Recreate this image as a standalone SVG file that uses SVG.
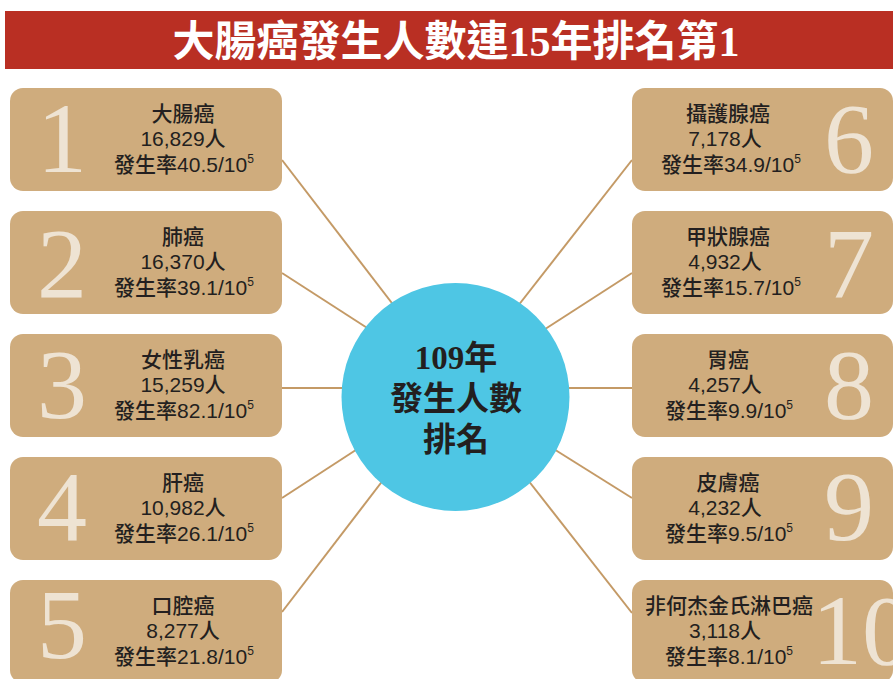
<svg xmlns="http://www.w3.org/2000/svg" width="893" height="679" viewBox="0 0 893 679">
<style>
.box{fill:#CFAC7D}
.num{font-family:"Liberation Serif","DejaVu Serif",serif;font-size:100px;fill:#EEE3D3}
.t{font-family:"Liberation Sans","Noto Sans CJK TC",sans-serif;font-size:21px;font-weight:500;fill:#231F20;text-anchor:middle}
.sup{font-size:12px}
.conn line{stroke:#C49A66;stroke-width:2}
.ct{font-family:"Liberation Serif","Noto Sans CJK TC",serif;font-weight:bold;font-size:33px;fill:#231F20;text-anchor:middle}
</style>
<rect width="893" height="679" fill="#FFFFFF"/>
<g id="title">
<rect x="5" y="11" width="888" height="58" fill="#B92F23"/>
<text x="456" y="56" font-family="'Liberation Serif','Noto Sans CJK TC',serif" font-weight="bold" font-size="42" fill="#FFFFFF" text-anchor="middle">大腸癌發生人數連15年排名第1</text>
</g>
<g id="connectors" class="conn">
<line x1="282" y1="160" x2="398" y2="311"/>
<line x1="282" y1="273" x2="375" y2="333"/>
<line x1="282" y1="388" x2="350" y2="388"/>
<line x1="282" y1="498" x2="362" y2="446"/>
<line x1="282" y1="612" x2="387" y2="475"/>
<line x1="632" y1="160" x2="514" y2="311"/>
<line x1="632" y1="273" x2="539" y2="333"/>
<line x1="632" y1="388" x2="562" y2="388"/>
<line x1="632" y1="498" x2="549" y2="446"/>
<line x1="632" y1="613" x2="524" y2="475"/>
</g>
<g id="center">
<circle cx="455.5" cy="397" r="114" fill="#4EC6E4"/>
<text class="ct" x="456" y="369">109年</text>
<text class="ct" x="456" y="410">發生人數</text>
<text class="ct" x="456" y="451">排名</text>
</g>
<g id="n1">
<rect class="box" x="10" y="88" width="272" height="103" rx="13"/>
<text class="num" x="62" y="172" text-anchor="middle">1</text>
<text class="t" x="183" y="121">大腸癌</text>
<text class="t" x="183" y="146">16,829人</text>
<text class="t" x="184" y="172">發生率40.5/10<tspan class="sup" dy="-9">5</tspan></text>
</g>
<g id="n2">
<rect class="box" x="10" y="211" width="272" height="103" rx="13"/>
<text class="num" x="62" y="297" text-anchor="middle">2</text>
<text class="t" x="183" y="244">肺癌</text>
<text class="t" x="183" y="269">16,370人</text>
<text class="t" x="184" y="295">發生率39.1/10<tspan class="sup" dy="-9">5</tspan></text>
</g>
<g id="n3">
<rect class="box" x="10" y="334" width="272" height="103" rx="13"/>
<text class="num" x="62" y="418" text-anchor="middle">3</text>
<text class="t" x="183" y="367">女性乳癌</text>
<text class="t" x="183" y="392">15,259人</text>
<text class="t" x="184" y="418">發生率82.1/10<tspan class="sup" dy="-9">5</tspan></text>
</g>
<g id="n4">
<rect class="box" x="10" y="457" width="272" height="103" rx="13"/>
<text class="num" x="62" y="540" text-anchor="middle">4</text>
<text class="t" x="183" y="490">肝癌</text>
<text class="t" x="183" y="515">10,982人</text>
<text class="t" x="184" y="541">發生率26.1/10<tspan class="sup" dy="-9">5</tspan></text>
</g>
<g id="n5">
<rect class="box" x="10" y="580" width="272" height="103" rx="13"/>
<text class="num" x="62" y="658" text-anchor="middle">5</text>
<text class="t" x="183" y="613">口腔癌</text>
<text class="t" x="183" y="638">8,277人</text>
<text class="t" x="184" y="664">發生率21.8/10<tspan class="sup" dy="-9">5</tspan></text>
</g>
<g id="n6">
<rect class="box" x="632" y="88" width="261" height="103" rx="13"/>
<text class="num" x="849" y="172" text-anchor="middle">6</text>
<text class="t" x="728" y="121">攝護腺癌</text>
<text class="t" x="725" y="146">7,178人</text>
<text class="t" x="731" y="172">發生率34.9/10<tspan class="sup" dy="-9">5</tspan></text>
</g>
<g id="n7">
<rect class="box" x="632" y="211" width="261" height="103" rx="13"/>
<text class="num" x="849" y="297" text-anchor="middle">7</text>
<text class="t" x="728" y="244">甲狀腺癌</text>
<text class="t" x="725" y="269">4,932人</text>
<text class="t" x="731" y="295">發生率15.7/10<tspan class="sup" dy="-9">5</tspan></text>
</g>
<g id="n8">
<rect class="box" x="632" y="334" width="261" height="103" rx="13"/>
<text class="num" x="849" y="418" text-anchor="middle">8</text>
<text class="t" x="728" y="367">胃癌</text>
<text class="t" x="725" y="392">4,257人</text>
<text class="t" x="729" y="418">發生率9.9/10<tspan class="sup" dy="-9">5</tspan></text>
</g>
<g id="n9">
<rect class="box" x="632" y="457" width="261" height="103" rx="13"/>
<text class="num" x="849" y="540" text-anchor="middle">9</text>
<text class="t" x="728" y="490">皮膚癌</text>
<text class="t" x="725" y="515">4,232人</text>
<text class="t" x="729" y="541">發生率9.5/10<tspan class="sup" dy="-9">5</tspan></text>
</g>
<g id="n10">
<rect class="box" x="632" y="580" width="261" height="103" rx="13"/>
<text class="num" x="812" y="664">10</text>
<text class="t" x="729" y="613">非何杰金氏淋巴癌</text>
<text class="t" x="725" y="638">3,118人</text>
<text class="t" x="729" y="664">發生率8.1/10<tspan class="sup" dy="-9">5</tspan></text>
</g>
</svg>
